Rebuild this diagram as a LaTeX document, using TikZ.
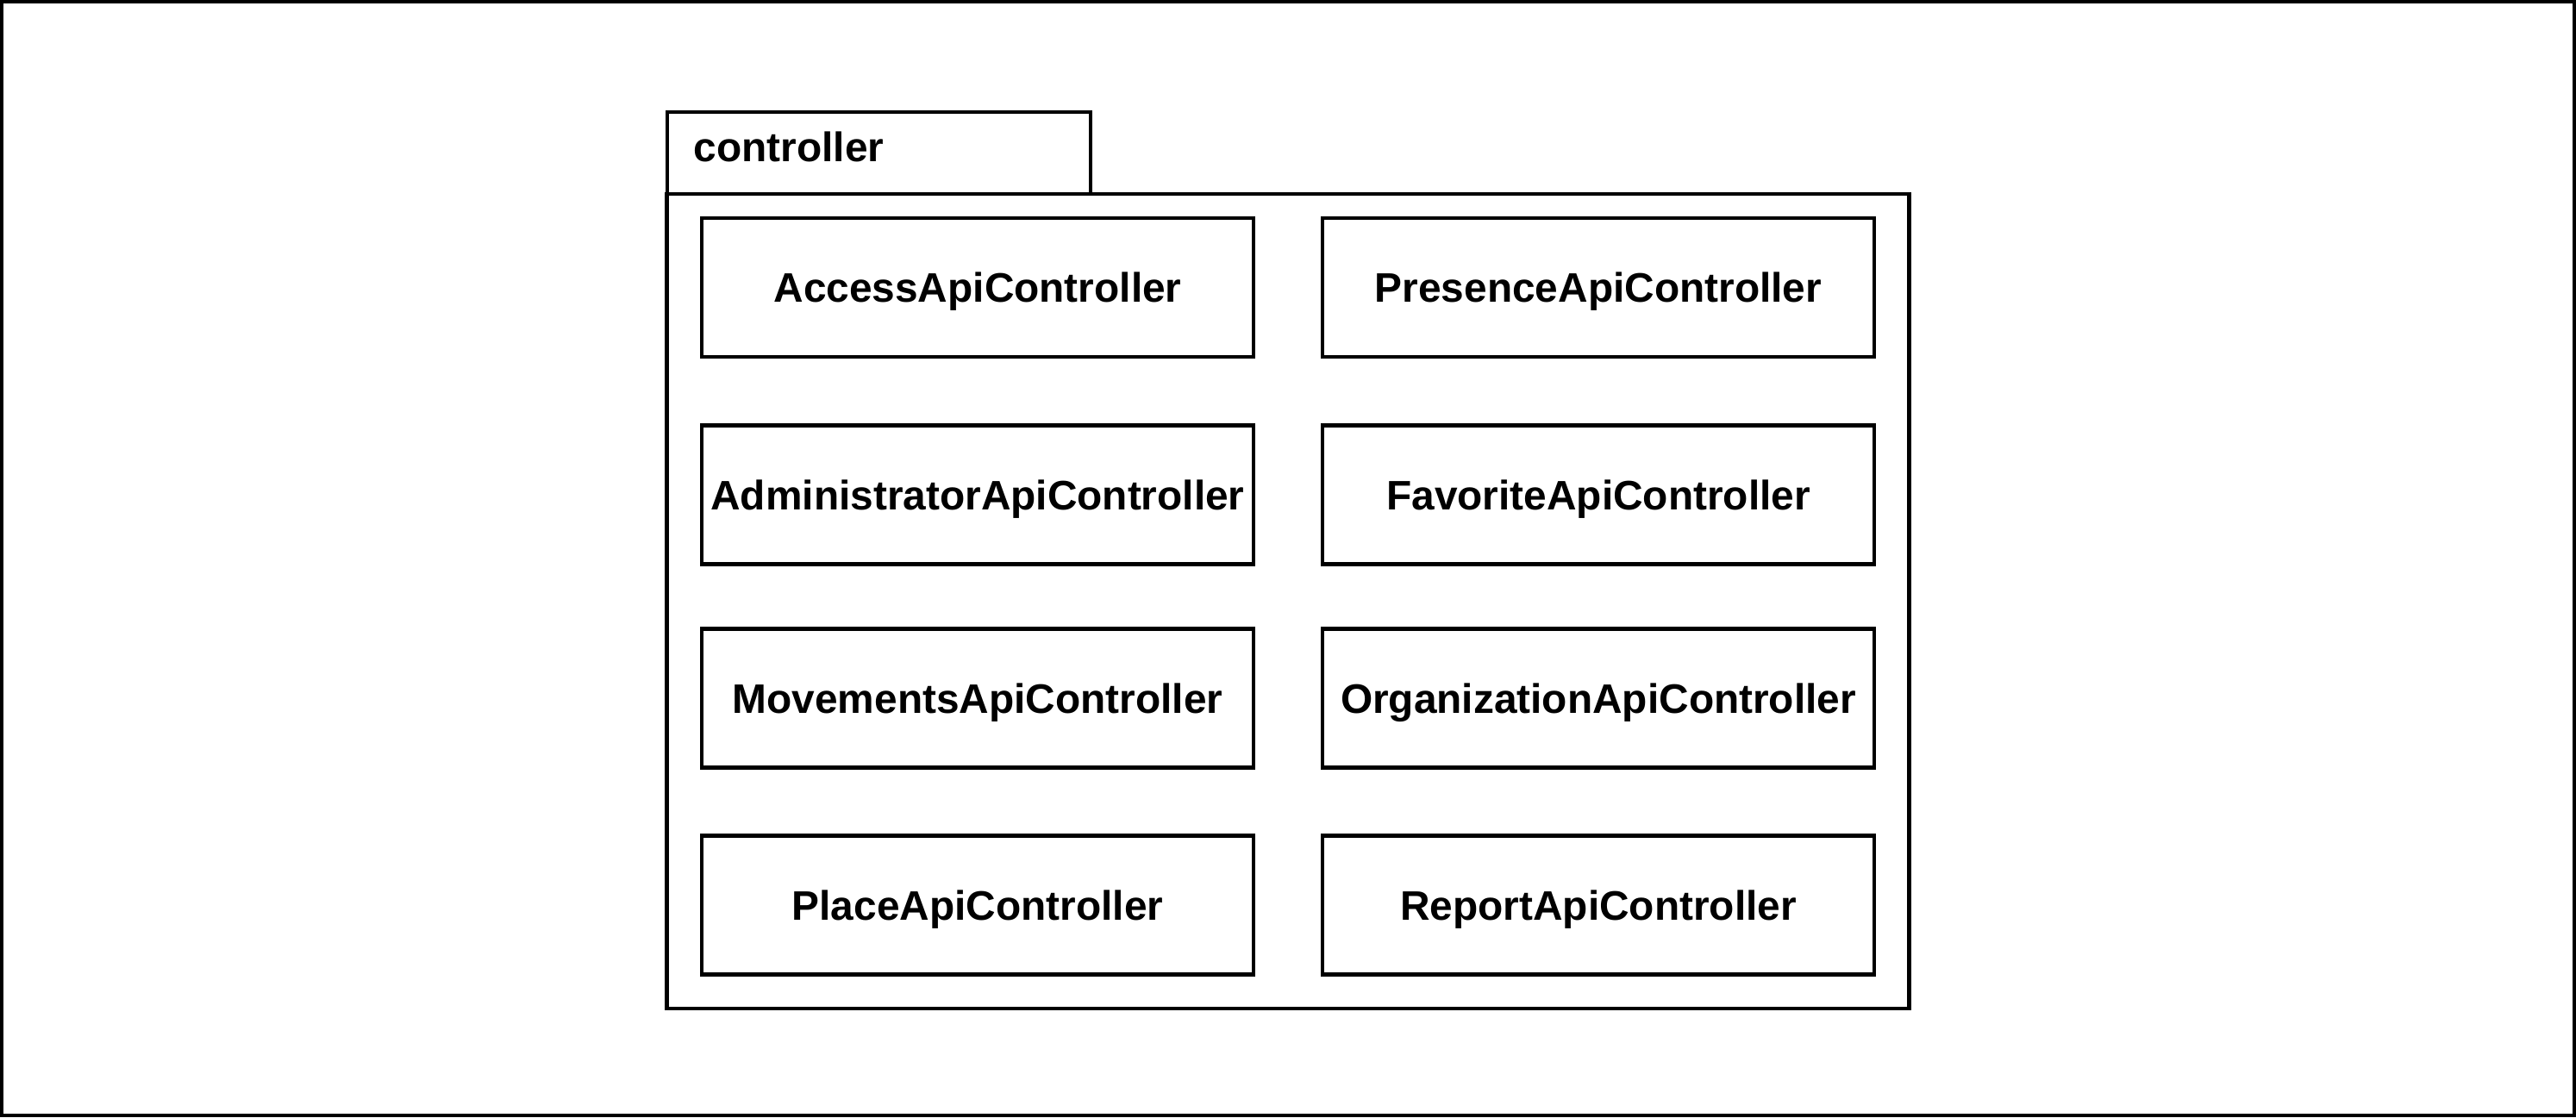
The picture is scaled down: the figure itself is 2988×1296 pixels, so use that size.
\documentclass[tikz,border=0pt]{standalone}
\usepackage{fontspec}
\setmainfont{Liberation Sans}
\begin{document}
\begin{tikzpicture}[x=0.01cm,y=-0.01cm,
  lw/.style={line width=0.042cm},
  cls/.style={draw,lw,rectangle,minimum width=6.4cm,minimum height=1.61cm,inner sep=0pt,text depth=0pt,
    font=\fontsize{13.6pt}{16pt}\selectfont\bfseries},
  pkg/.style={draw,lw,rectangle,inner sep=0pt}]
\useasboundingbox (0,0) rectangle (2988,1296);
\draw[lw] (2,2) rectangle (2986,1294);
% package
\node[pkg,minimum width=4.91cm,minimum height=0.95cm] (tab) at (1019.5,177.5) {};
\node[pkg,minimum width=14.4cm,minimum height=9.45cm] (body) at (1494,697.5) {};
\node[anchor=base west,inner sep=0pt,font=\fontsize{13.6pt}{16pt}\selectfont\bfseries] (lbl) at (804,187) {controller};
% classes
\node[cls] (access) at (1134,333.5) {AccessApiController};
\node[cls] (presence) at (1854,333.5) {PresenceApiController};
\node[cls] (admin) at (1134,574) {AdministratorApiController};
\node[cls] (favorite) at (1854,574) {FavoriteApiController};
\node[cls] (movements) at (1134,810) {MovementsApiController};
\node[cls] (organization) at (1854,810) {OrganizationApiController};
\node[cls] (place) at (1134,1050) {PlaceApiController};
\node[cls] (report) at (1854,1050) {ReportApiController};
\end{tikzpicture}
\end{document}
